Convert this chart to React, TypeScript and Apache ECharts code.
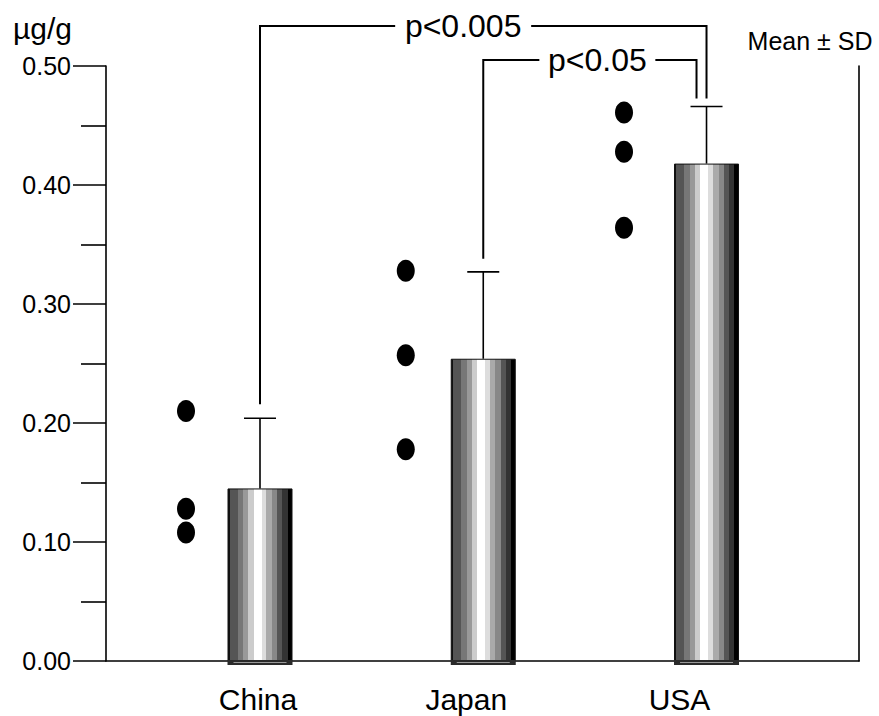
import React, { useEffect, useRef } from "react";
import * as echarts from "echarts";

// ---- data ----
const categories = ["China", "Japan", "USA"];
const means = [0.145, 0.254, 0.418];
const sds = [0.059, 0.073, 0.048];
const chinaValues = [0.21, 0.128, 0.108];
const japanValues = [0.328, 0.257, 0.178];
const usaValues = [0.461, 0.428, 0.364];
const groupValues = [chinaValues, japanValues, usaValues];
const yMin = 0;
const yMax = 0.5;
const yStep = 0.1;
const comparisons = [
  { from: 0, to: 2, label: "p<0.005" },
  { from: 1, to: 2, label: "p<0.05" },
];
const unitLabel = "µg/g";
const legendNote = "Mean ± SD";

// ---- layout / style constants ----
const X_MIN = 0.3102;
const X_MAX = 3.683;
const UNIT_PX = 223.25;
const BAR_W = 65;
const dotShiftPx = [-74, -77.5, -82.5];
const labelShiftPx = [-2, -17, -27];
const bracketStyle = [
  { topAbove: 40, leftDrop: 14, rightShift: 0, rightDrop: 8, textFrac: 0.455, gapHalf: 68 },
  { topAbove: 6, leftDrop: 13, rightShift: -10, rightDrop: 8, textFrac: 0.535, gapHalf: 58 },
];
const FONT = "'Liberation Sans', Arial, Helvetica, sans-serif";

const stripes: [number, number, string][] = [
  [0, 0.03, "#111111"],
  [0.03, 0.15, "#555555"],
  [0.15, 0.24, "#777777"],
  [0.24, 0.32, "#999999"],
  [0.32, 0.4, "#cccccc"],
  [0.4, 0.53, "#ffffff"],
  [0.53, 0.6, "#dddddd"],
  [0.6, 0.69, "#aaaaaa"],
  [0.69, 0.77, "#888888"],
  [0.77, 0.85, "#555555"],
  [0.85, 0.93, "#333333"],
  [0.93, 1, "#000000"],
];

export default function App() {
  const ref = useRef<HTMLDivElement>(null);

  useEffect(() => {
    if (!ref.current) return;
    const chart = echarts.init(ref.current, null, { renderer: "svg" });

    const colorStops: { offset: number; color: string }[] = [];
    stripes.forEach(([a, b, c]) => {
      colorStops.push({ offset: a, color: c });
      colorStops.push({ offset: b, color: c });
    });
    const barFill = {
      type: "linear",
      x: 0,
      y: 0,
      x2: 1,
      y2: 0,
      colorStops,
    };

    const barData = means.map((m, i) => [i + 1, m]);
    const errData = means.map((m, i) => [i + 1, m, sds[i]]);
    const dotData: number[][] = [];
    groupValues.forEach((vals, i) => vals.forEach((v) => dotData.push([i + 1, v, i])));

    const labelValues = categories.map((_, i) => i + 1 + labelShiftPx[i] / UNIT_PX);

    const option: any = {
      animation: false,
      backgroundColor: "#ffffff",
      grid: { left: 106, right: 20, top: 66, bottom: 55, containLabel: false },
      xAxis: {
        type: "value",
        min: X_MIN,
        max: X_MAX,
        axisLine: { show: true, lineStyle: { color: "#000", width: 1.6 } },
        axisTick: { show: false },
        splitLine: { show: false },
        axisLabel: {
          customValues: labelValues,
          formatter: (v: number) => categories[Math.round(v) - 1] ?? "",
          color: "#000",
          fontSize: 30,
          fontFamily: FONT,
          margin: 23,
          lineHeight: 30,
        },
      },
      yAxis: [
        {
          type: "value",
          min: yMin,
          max: yMax,
          interval: yStep,
          axisLine: { show: true, lineStyle: { color: "#000", width: 1.6 } },
          axisTick: { show: true, length: 33, lineStyle: { color: "#000", width: 1.6 } },
          minorTick: { show: true, splitNumber: 2, length: 25, lineStyle: { color: "#000", width: 1.6 } },
          splitLine: { show: false },
          axisLabel: {
            formatter: (v: number) => v.toFixed(2),
            color: "#000",
            fontSize: 25,
            fontFamily: FONT,
            margin: 35,
          },
        },
        {
          type: "value",
          position: "right",
          min: yMin,
          max: yMax,
          interval: yStep,
          axisLine: { show: true, lineStyle: { color: "#000", width: 1.6 } },
          axisTick: { show: false },
          axisLabel: { show: false },
          splitLine: { show: false },
        },
      ],
      series: [
        {
          type: "bar",
          data: barData,
          barWidth: BAR_W,
          itemStyle: { color: barFill, borderColor: "#111", borderWidth: 1 },
          z: 2,
        },
        {
          type: "custom",
          data: barData,
          z: 3,
          renderItem: (params: any, api: any) => {
            const c = api.coord([api.value(0), 0]);
            return {
              type: "group",
              children: [
                {
                  type: "rect",
                  shape: { x: c[0] - BAR_W / 2, y: c[1] - 1, width: BAR_W, height: 5 },
                  style: { fill: "#2a2a2a" },
                },
                {
                  type: "line",
                  shape: { x1: c[0] - BAR_W / 2 + 6, y1: c[1] + 1.5, x2: c[0] + BAR_W / 2 - 6, y2: c[1] + 1.5 },
                  style: { stroke: "#999", lineWidth: 1 },
                },
              ],
            };
          },
        },
        {
          type: "custom",
          data: errData,
          z: 4,
          renderItem: (params: any, api: any) => {
            const x = api.value(0);
            const m = api.value(1);
            const s = api.value(2);
            const p0 = api.coord([x, m]);
            const p1 = api.coord([x, m + s]);
            return {
              type: "group",
              children: [
                {
                  type: "line",
                  shape: { x1: p0[0], y1: p0[1], x2: p1[0], y2: p1[1] },
                  style: { stroke: "#000", lineWidth: 1.6 },
                },
                {
                  type: "line",
                  shape: { x1: p1[0] - 16, y1: p1[1], x2: p1[0] + 16, y2: p1[1] },
                  style: { stroke: "#000", lineWidth: 1.6 },
                },
              ],
            };
          },
        },
        {
          type: "custom",
          data: dotData,
          z: 5,
          renderItem: (params: any, api: any) => {
            const gi = api.value(2);
            const p = api.coord([api.value(0), api.value(1)]);
            return {
              type: "ellipse",
              shape: { cx: p[0] + dotShiftPx[gi], cy: p[1], rx: 9, ry: 11 },
              style: { fill: "#000" },
            };
          },
        },
      ],
    };

    chart.setOption(option);

    const px = (x: number, y: number) =>
      chart.convertToPixel({ xAxisIndex: 0, yAxisIndex: 0 }, [x, y]) as number[];
    const gridTop = px(1, yMax)[1];

    const graphics: any[] = [];
    const lineStyle = { stroke: "#000", lineWidth: 2 };
    comparisons.forEach((cmp, k) => {
      const st = bracketStyle[k];
      const a = px(cmp.from + 1, means[cmp.from] + sds[cmp.from]);
      const b = px(cmp.to + 1, means[cmp.to] + sds[cmp.to]);
      const top = gridTop - st.topAbove;
      const lx = a[0];
      const rx = b[0] + st.rightShift;
      const tx = lx + (rx - lx) * st.textFrac;
      graphics.push({
        type: "polyline",
        shape: { points: [[lx, a[1] - st.leftDrop], [lx, top], [tx - st.gapHalf, top]] },
        style: { ...lineStyle, fill: null },
      });
      graphics.push({
        type: "polyline",
        shape: { points: [[tx + st.gapHalf, top], [rx, top], [rx, b[1] - st.rightDrop]] },
        style: { ...lineStyle, fill: null },
      });
      graphics.push({
        type: "text",
        x: tx,
        y: top,
        style: {
          text: cmp.label,
          fontSize: 32,
          fontFamily: FONT,
          fill: "#000",
          align: "center",
          verticalAlign: "middle",
        },
      });
    });
    graphics.push({
      type: "text",
      x: 13,
      y: 28,
      style: { text: unitLabel, fontSize: 30, fontFamily: FONT, fill: "#000", align: "left", verticalAlign: "middle" },
    });
    graphics.push({
      type: "text",
      x: 810,
      y: 41,
      style: { text: legendNote, fontSize: 25, fontFamily: FONT, fill: "#000", align: "center", verticalAlign: "middle" },
    });

    chart.setOption({ graphic: graphics });

    return () => chart.dispose();
  }, []);

  return (
    <div
      ref={ref}
      style={{ position: "absolute", left: 0, top: 0, width: 879, height: 716, background: "#fff" }}
    />
  );
}
